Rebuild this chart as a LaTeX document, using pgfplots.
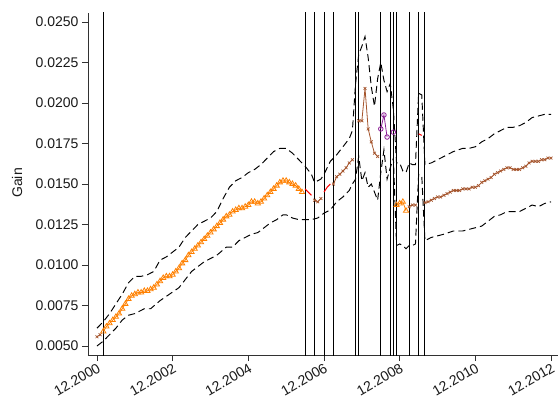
\documentclass[border=0pt]{standalone}
\usepackage{pgfplots}
\pgfplotsset{compat=1.18}
\usepackage{fontspec}
\setmainfont{Liberation Sans}

\definecolor{estOrange}{RGB}{255,128,0}
\definecolor{estBrown}{RGB}{165,85,45}
\definecolor{estPurple}{RGB}{140,30,150}
\definecolor{spine}{RGB}{50,50,50}

\begin{document}
\begin{tikzpicture}
\begin{axis}[
  scale only axis,
  width=470bp, height=342bp,
  xmin=-2.85, xmax=146.2,
  ymin=0.004444, ymax=0.025556,
  axis x line*=bottom, axis y line*=left,
  axis line style={spine, line width=0.9bp},
  tick align=outside,
  major tick length=6bp,
  tick style={spine, line width=0.9bp},
  xtick={0,24,48,72,96,120,144},
  xticklabels={12.2000,12.2002,12.2004,12.2006,12.2008,12.2010,12.2012},
  xticklabel style={rotate=30, anchor=north east, inner sep=1bp},
  ytick={0.005,0.0075,0.01,0.0125,0.015,0.0175,0.02,0.0225,0.025},
  scaled y ticks=false,
  yticklabel style={/pgf/number format/.cd, fixed, fixed zerofill, precision=4, assume math mode=true},
  every tick label/.append style={font=\fontsize{14bp}{16bp}\selectfont, text=black!90},
  ylabel={Gain},
  ylabel style={at={(axis description cs:-0.151,0.503)}, anchor=center, font=\fontsize{14bp}{16bp}\selectfont, text=black!90},
  clip=true,
  band/.style={black, line width=0.95bp, dash pattern=on 7bp off 4bp},
  brownest/.style={estBrown, line width=0.8bp, mark=x, mark size=2bp, mark options={line width=0.7bp}},
  orangeest/.style={estOrange, line width=0.8bp, mark=triangle, mark size=3bp, mark options={line width=0.8bp}},
]

% regime breaks
\pgfplotsinvokeforeach{2,66,69,72,75,82,83,90,93,94,95,99,102,104}{
  \addplot[black, line width=0.9bp, forget plot] coordinates {(#1,0.004) (#1,0.026)};
}

% confidence band, upper
\addplot[band] coordinates {
(0,0.0061) (2,0.0065) (4,0.0070) (6,0.0076) (8,0.0082) (10,0.0089) (12,0.0093)
(14,0.0093) (16,0.0094) (18,0.0096) (20,0.0103) (22,0.0105) (24,0.0108) (26,0.0111)
(28,0.0117) (30,0.0121) (32,0.0125) (34,0.0127) (36,0.0129) (38,0.0133) (40,0.0141)
(42,0.0148) (44,0.0152) (46,0.0154) (48,0.0157) (50,0.0159) (52,0.0162) (54,0.0166)
(56,0.0170) (58,0.0172) (60,0.0172) (62,0.0169) (64,0.0165) (66,0.0161) (68,0.0156)
(69,0.0151) (70,0.0152) (71,0.0153) (72,0.0156) (73,0.0160) (74,0.0164) (76,0.0168)
(78,0.0173) (80,0.0178) (81,0.0183) (82,0.0212) (83,0.0230) (84,0.0235) (85,0.0241)
(86,0.0228) (87,0.0210) (88,0.0198) (89,0.0215) (90,0.0225) (91,0.0214) (92,0.0207)
(93,0.0212) (94,0.0196) (95,0.0163) (96,0.0163) (97,0.0158) (98,0.0157) (99,0.0163)
(100,0.0162) (101,0.0162) (102,0.0206) (103,0.0205) (104,0.0162) (106,0.0163)
(108,0.0165) (110,0.0167) (113,0.0170) (116,0.0172) (118,0.0172) (120,0.0173)
(122,0.0176) (124,0.0178) (126,0.0181) (128,0.0183) (130,0.0185) (132,0.0185)
(134,0.0186) (136,0.0188) (138,0.0191) (140,0.0192) (142,0.0193) (144,0.0193)
};

% confidence band, lower
\addplot[band] coordinates {
(0,0.0050) (2,0.0053) (4,0.0057) (6,0.0061) (8,0.0066) (10,0.0069) (12,0.0070)
(15,0.0073) (17,0.0073) (20,0.0078) (23,0.0082) (26,0.0086) (28,0.0091) (30,0.0096)
(32,0.0099) (34,0.0102) (36,0.0104) (38,0.0106) (41,0.0111) (43,0.0111) (45,0.0115)
(47,0.0117) (49,0.0119) (51,0.0120) (53,0.0123) (55,0.0126) (57,0.0128) (59,0.0131)
(60,0.0131) (62,0.0129) (64,0.0128) (66,0.0128) (68,0.0128) (70,0.0129) (72,0.0132)
(74,0.0134) (76,0.0139) (78,0.0142) (80,0.0146) (81,0.0150) (82,0.0153) (83,0.0167)
(84,0.0152) (85,0.0157) (86,0.0148) (87,0.0150) (88,0.0145) (89,0.0140) (90,0.0157)
(91,0.0171) (92,0.0153) (93,0.0160) (94,0.0166) (95,0.0112) (96,0.0113) (97,0.0112)
(98,0.0110) (99,0.0112) (100,0.0112) (101,0.0113) (102,0.0156) (103,0.0155)
(104,0.0115) (106,0.0117) (108,0.0118) (110,0.0119) (113,0.0121) (116,0.0121)
(118,0.0122) (120,0.0123) (122,0.0124) (124,0.0127) (126,0.0130) (128,0.0131)
(130,0.0133) (132,0.0133) (134,0.0133) (136,0.0135) (138,0.0137) (140,0.0136)
(142,0.0138) (144,0.0139)
};

% estimate: red connecting pieces
\addplot[red, line width=1bp] coordinates {(66,0.0147) (67,0.0145) (68,0.0143)};
\addplot[red, line width=1bp] coordinates {(72,0.0145) (73,0.0148) (74,0.0150)};
\addplot[red, line width=1bp] coordinates {(102,0.0181) (103,0.0180)};

% estimate: brown regime
\addplot[brownest] coordinates {(0,0.00557) (1,0.0057)};
\addplot[brownest] coordinates {(69,0.0140) (70,0.0139) (71,0.0141)};
\addplot[brownest] coordinates {
(75,0.0150) (76,0.01545) (77,0.0156) (78,0.0158) (79,0.0160) (80,0.0163) (81,0.0165)};
\addplot[brownest] coordinates {
(83,0.0189) (84,0.0189) (85,0.0209) (86,0.0184) (87,0.0176) (88,0.0169) (89,0.0167)};
\addplot[brownest] coordinates {(99,0.0136) (100,0.0137) (101,0.0137)};
\addplot[brownest] coordinates {
(104,0.01385) (105,0.0139) (106,0.0140) (107,0.0141) (108,0.0142) (109,0.0142)
(110,0.0143) (111,0.0144) (112,0.0145) (113,0.0146) (114,0.0146) (115,0.0146)
(116,0.0147) (117,0.0147) (118,0.0147) (119,0.0148) (120,0.0148) (121,0.0149)
(122,0.0151) (123,0.0152) (124,0.0153) (125,0.0154) (126,0.0156) (127,0.0157)
(128,0.0158) (129,0.0159) (130,0.0160) (131,0.0160) (132,0.0159) (133,0.0159)
(134,0.0159) (135,0.0160) (136,0.0161) (137,0.0163) (138,0.0164) (139,0.0164)
(140,0.0164) (141,0.0165) (142,0.0165) (143,0.0166) (144,0.0166)};

% estimate: orange regime
\addplot[orangeest] coordinates {
(2,0.0059) (3,0.0062) (4,0.0064) (5,0.0066) (6,0.0068) (7,0.0070) (8,0.0073)
(9,0.0076) (10,0.0079) (11,0.0081) (12,0.0082) (13,0.0083) (14,0.0083) (15,0.0084)
(16,0.0084) (17,0.0085) (18,0.0086) (19,0.0088) (20,0.0090) (21,0.0092) (22,0.0093)
(23,0.0093) (24,0.0094) (25,0.0096) (26,0.0098) (27,0.0101) (28,0.0103) (29,0.0106)
(30,0.0108) (31,0.0110) (32,0.0112) (33,0.0114) (34,0.0116) (35,0.0118) (36,0.0120)
(37,0.0122) (38,0.0124) (39,0.0126) (40,0.0128) (41,0.0130) (42,0.0131) (43,0.0133)
(44,0.0134) (45,0.0135) (46,0.0135) (47,0.0136) (48,0.0137) (49,0.0139) (50,0.0139)
(51,0.0138) (52,0.0139) (53,0.0141) (54,0.0143) (55,0.0145) (56,0.0147) (57,0.0149)
(58,0.0151) (59,0.0152) (60,0.0152) (61,0.0151) (62,0.0150) (63,0.0149) (64,0.0147)
(65,0.0145)};
\addplot[orangeest] coordinates {
(95,0.0137) (96,0.0138) (97,0.0139) (98,0.01335)};

% estimate: purple regime
\addplot[estPurple, line width=0.8bp, mark=o, mark size=2.3bp] coordinates {
(90,0.0184) (91,0.01926) (92,0.0179)};
\addplot[estPurple, line width=0.8bp, mark=o, mark size=2.3bp] coordinates {(94,0.0182)};

\end{axis}
\pgfresetboundingbox
\path[use as bounding box] (-88bp,-43bp) rectangle (470bp,355bp);
\end{tikzpicture}
\end{document}
